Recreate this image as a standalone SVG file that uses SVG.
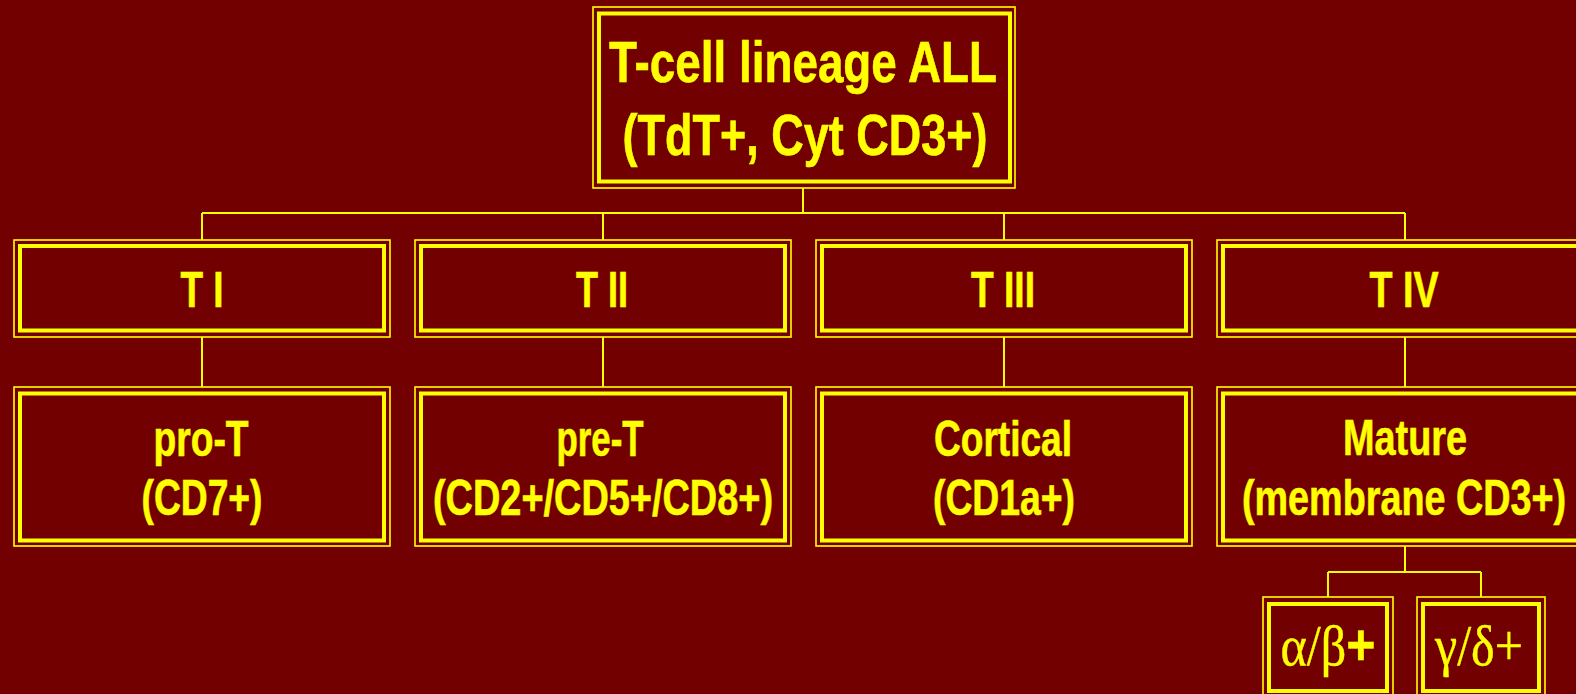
<svg xmlns="http://www.w3.org/2000/svg" width="1576" height="694" viewBox="0 0 1576 694">
<style>
.o{fill:none;stroke:#ffff00;stroke-width:1.6}
.i{fill:none;stroke:#ffff00;stroke-width:4}
.t{font-family:"Liberation Sans",Arial,sans-serif;font-weight:bold;fill:#ffff00;stroke:#ffff00;stroke-width:0.6;text-anchor:middle}
.g{font-family:"Liberation Serif","Times New Roman",serif;fill:#ffff00;stroke:#ffff00;stroke-width:0.4;text-anchor:middle}
.c{fill:none;stroke:#ffff00;stroke-width:2}
</style>
<rect width="1576" height="694" fill="#720000"/>
<g id="connectors">
<path class="c" d="M803 188V213M202 213H1405M202 213V240M603 213V240M1004 213V240M1405 213V240"/>
<path class="c" d="M202 337V387M603 337V387M1004 337V387M1405 337V387"/>
<path class="c" d="M1405 546V572M1328 572H1481M1328 572V597M1481 572V597"/>
</g>
<g id="root">
<rect class="o" x="593" y="7" width="422" height="181"/>
<rect class="i" x="599" y="13.5" width="411" height="168"/>
<text class="t" x="803" y="82" font-size="58" textLength="388" lengthAdjust="spacingAndGlyphs">T-cell lineage ALL</text>
<text class="t" x="805" y="155" font-size="58" textLength="365" lengthAdjust="spacingAndGlyphs">(TdT+, Cyt CD3+)</text>
</g>
<g id="t1">
<rect class="o" x="14" y="240" width="376" height="97"/>
<rect class="i" x="20" y="246" width="364" height="84.5"/>
<text class="t" x="202" y="307" font-size="50" textLength="43" lengthAdjust="spacingAndGlyphs">T I</text>
</g>
<g id="t2">
<rect class="o" x="415" y="240" width="376" height="97"/>
<rect class="i" x="421" y="246" width="364" height="84.5"/>
<text class="t" x="602" y="307" font-size="50" textLength="52" lengthAdjust="spacingAndGlyphs">T II</text>
</g>
<g id="t3">
<rect class="o" x="816" y="240" width="376" height="97"/>
<rect class="i" x="822" y="246" width="364" height="84.5"/>
<text class="t" x="1003" y="307" font-size="50" textLength="64" lengthAdjust="spacingAndGlyphs">T III</text>
</g>
<g id="t4">
<rect class="o" x="1217" y="240" width="376" height="97"/>
<rect class="i" x="1223" y="246" width="364" height="84.5"/>
<text class="t" x="1404" y="307" font-size="50" textLength="69" lengthAdjust="spacingAndGlyphs">T IV</text>
</g>
<g id="prot">
<rect class="o" x="14" y="387" width="376" height="159"/>
<rect class="i" x="20" y="393.5" width="364" height="147"/>
<text class="t" x="201" y="456" font-size="50" textLength="95" lengthAdjust="spacingAndGlyphs">pro-T</text>
<text class="t" x="202" y="515" font-size="50" textLength="121" lengthAdjust="spacingAndGlyphs">(CD7+)</text>
</g>
<g id="pret">
<rect class="o" x="415" y="387" width="376" height="159"/>
<rect class="i" x="421" y="393.5" width="364" height="147"/>
<text class="t" x="600" y="456" font-size="50" textLength="87" lengthAdjust="spacingAndGlyphs">pre-T</text>
<text class="t" x="603" y="515" font-size="50" textLength="340" lengthAdjust="spacingAndGlyphs">(CD2+/CD5+/CD8+)</text>
</g>
<g id="cortical">
<rect class="o" x="816" y="387" width="376" height="159"/>
<rect class="i" x="822" y="393.5" width="364" height="147"/>
<text class="t" x="1003" y="456" font-size="50" textLength="138" lengthAdjust="spacingAndGlyphs">Cortical</text>
<text class="t" x="1004" y="515" font-size="50" textLength="142" lengthAdjust="spacingAndGlyphs">(CD1a+)</text>
</g>
<g id="mature">
<rect class="o" x="1217" y="387" width="376" height="159"/>
<rect class="i" x="1223" y="393.5" width="364" height="147"/>
<text class="t" x="1405" y="455" font-size="50" textLength="124" lengthAdjust="spacingAndGlyphs">Mature</text>
<text class="t" x="1404" y="515" font-size="50" textLength="324" lengthAdjust="spacingAndGlyphs">(membrane CD3+)</text>
</g>
<g id="ab">
<rect class="o" x="1263" y="597" width="130" height="100"/>
<rect class="i" x="1269" y="604" width="118" height="87"/>
<text class="g" x="1328" y="665" font-size="57" textLength="95" lengthAdjust="spacingAndGlyphs">α/β<tspan style="font-family:'Liberation Sans',Arial,sans-serif;font-weight:bold">+</tspan></text>
</g>
<g id="gd">
<rect class="o" x="1417" y="597" width="128" height="100"/>
<rect class="i" x="1423" y="604" width="116" height="87"/>
<text class="g" x="1479" y="665" font-size="57" textLength="88" lengthAdjust="spacingAndGlyphs">γ/δ+</text>
</g>
</svg>
